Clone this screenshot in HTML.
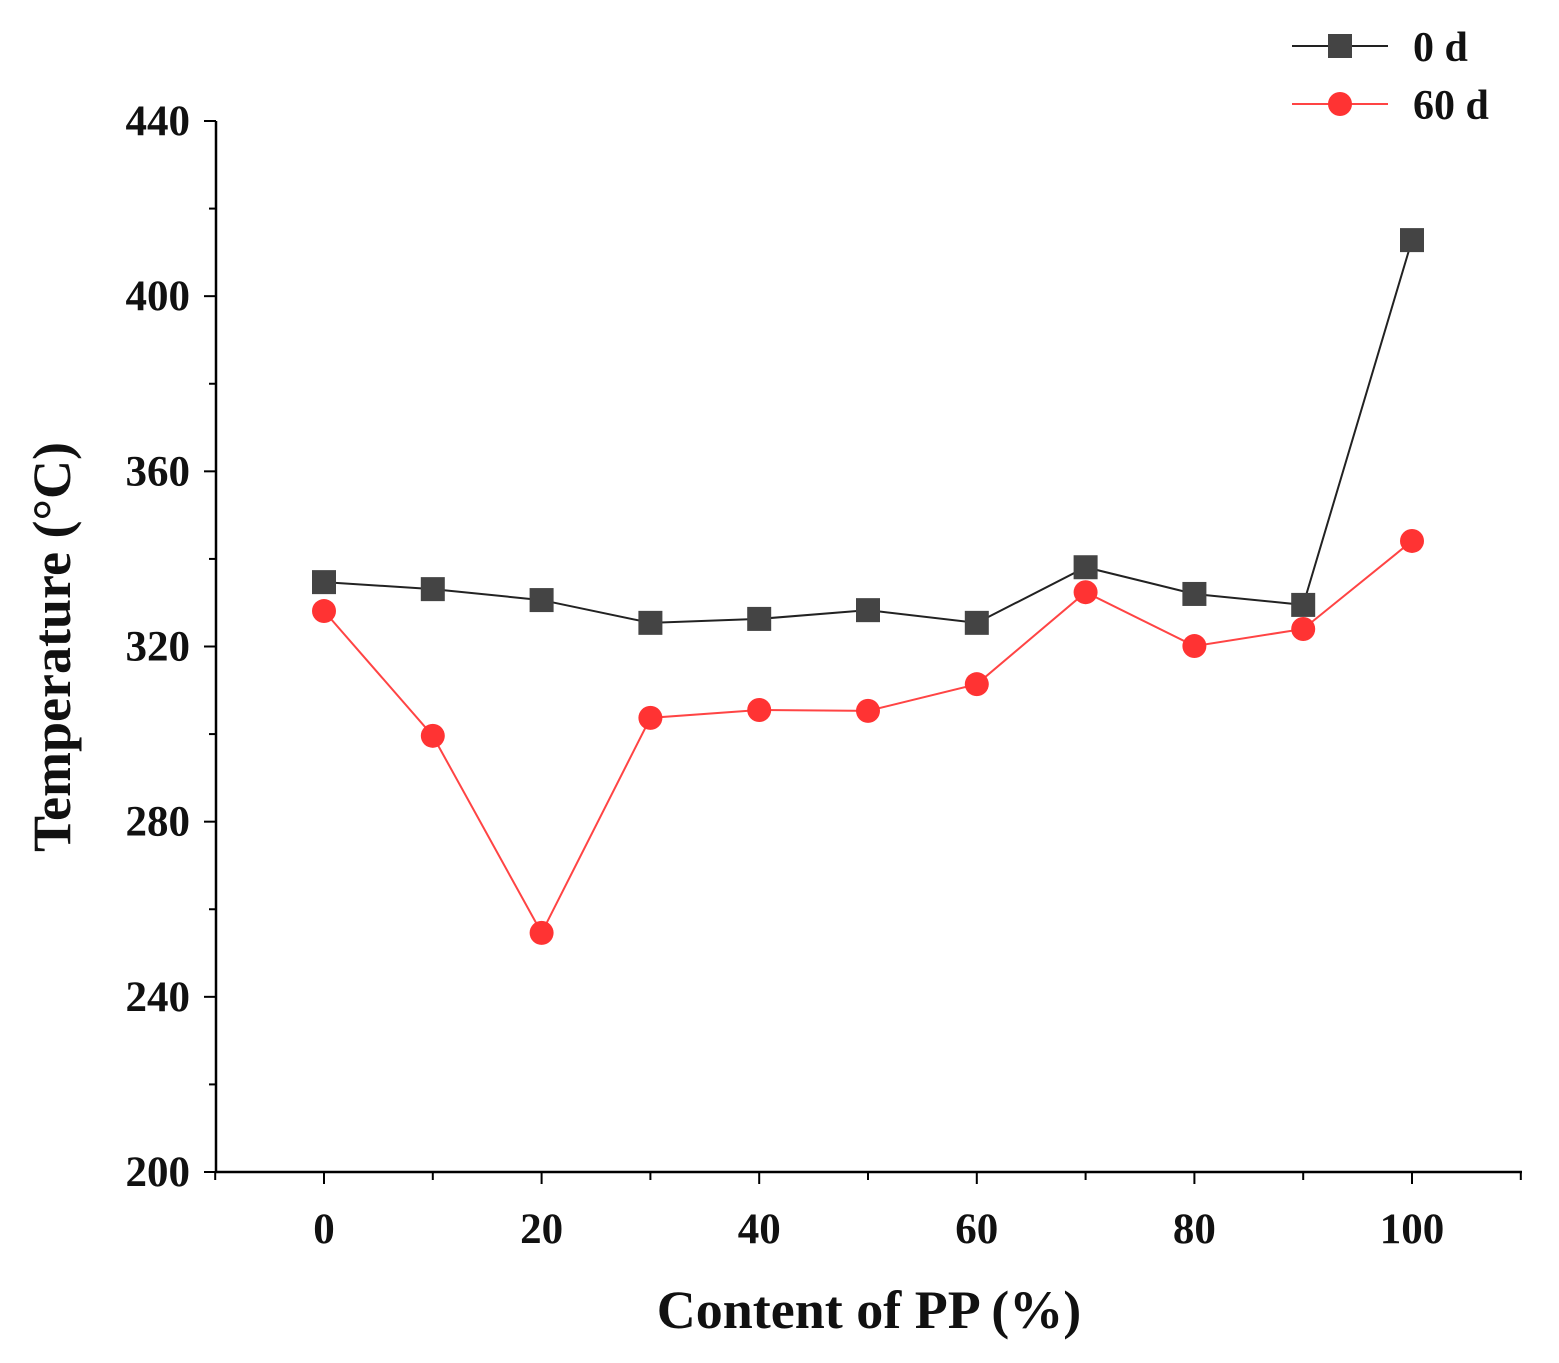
<!DOCTYPE html>
<html><head><meta charset="utf-8"><style>
body{margin:0;background:#fff}
svg text{font-family:"Liberation Serif",serif;font-weight:bold;fill:#111}
</style></head><body>
<svg id="chart" width="1559" height="1358" viewBox="0 0 1559 1358" xmlns="http://www.w3.org/2000/svg">
<g id="axes"></g>
<g id="series"></g>
<g id="legend">
<line x1="1292" y1="46" x2="1388" y2="46" stroke="#222" stroke-width="2"/>
<rect x="1328" y="34" width="24" height="24" fill="#444"/>
<text x="1413" y="61" font-size="42">0 d</text>
<line x1="1292" y1="104" x2="1388" y2="104" stroke="#f44" stroke-width="2"/>
<circle cx="1340" cy="104" r="12" fill="#f33"/>
<text x="1413" y="119" font-size="42">60 d</text>
</g>
<text x="869" y="1328" font-size="54" text-anchor="middle">Content of PP (%)</text>
<text transform="translate(70,647) rotate(-90)" font-size="54" text-anchor="middle">Temperature (°C)</text>
</svg>
<script>
const categories=[0,10,20,30,40,50,60,70,80,90,100];
const values0d=[334.7,333.1,330.6,325.4,326.3,328.3,325.4,338.1,332.0,329.5,412.8];
const values60d=[328.1,299.6,254.6,303.7,305.5,305.3,311.4,332.4,320.1,324.0,344.1];
const yTicks=[200,240,280,320,360,400,440];
const xTicks=[0,20,40,60,80,100];
const NS="http://www.w3.org/2000/svg";
const xs=v=>324+(v-0)*10.88;
const ys=v=>1172-(v-200)*(1051/240);
function mk(t,a,p){const e=document.createElementNS(NS,t);for(const k in a)e.setAttribute(k,a[k]);p.appendChild(e);return e;}
const ax=document.getElementById('axes');
const yl=mk('line',{x1:216,y1:121,x2:216,y2:1172,stroke:'#000','stroke-width':2.5},ax);


const xl=mk('line',{x1:216,y1:1172,x2:1522,y2:1172,stroke:'#000','stroke-width':2.5},ax);


for(let v=200;v<=440;v+=20){const major=yTicks.includes(v);mk('line',{x1:major?204:209,y1:ys(v),x2:216,y2:ys(v),stroke:'#000','stroke-width':2},ax);}
yTicks.forEach(v=>{const t=mk('text',{x:190,y:ys(v)+14,'font-size':43,'text-anchor':'end'},ax);t.textContent=v;

});
for(let v=-10;v<=110;v+=10){const major=xTicks.includes(v);mk('line',{x1:xs(v),y1:1172,x2:xs(v),y2:major?1184:1180,stroke:'#000','stroke-width':2},ax);}
xTicks.forEach(v=>{const t=mk('text',{x:xs(v),y:1243,'font-size':43,'text-anchor':'middle'},ax);t.textContent=v;

});
const sg=document.getElementById('series');
function line(vals,color,name){const pl=mk('polyline',{points:vals.map((v,i)=>xs(categories[i])+','+ys(v)).join(' '),fill:'none',stroke:color,'stroke-width':2},sg);

}
line(values0d,'#222','line-0d');
line(values60d,'#f44','line-60d');
values0d.forEach((v,i)=>{const r=mk('rect',{x:xs(categories[i])-12,y:ys(v)-12,width:24,height:24,fill:'#444'},sg);

});
values60d.forEach((v,i)=>{const c=mk('circle',{cx:xs(categories[i]),cy:ys(v),r:12,fill:'#f33'},sg);

});
</script>
</body></html>
